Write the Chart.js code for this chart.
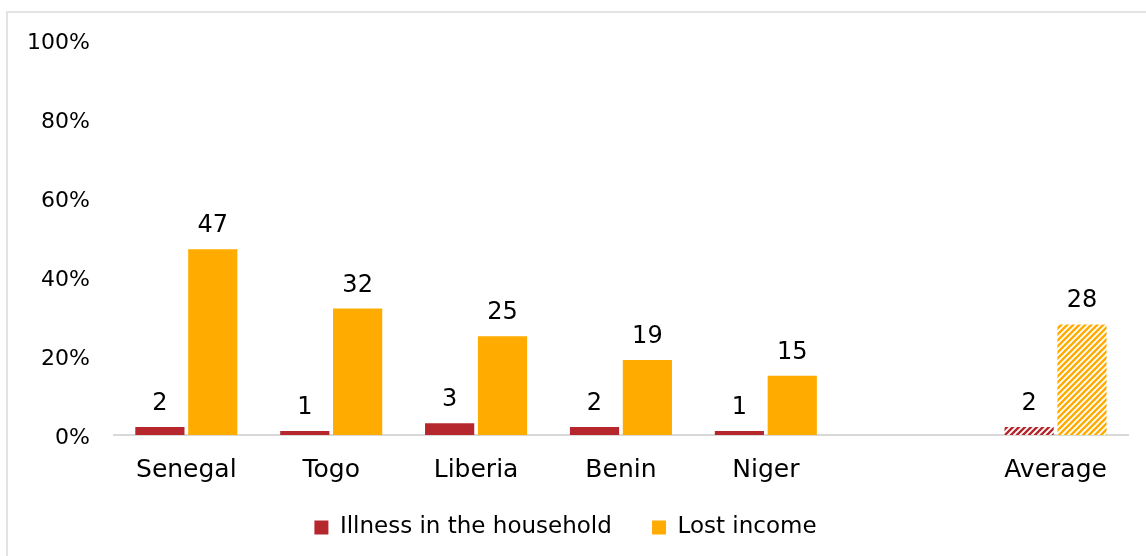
<!DOCTYPE html>
<html>
<head>
<meta charset="utf-8">
<script src="https://cdn.jsdelivr.net/npm/chart.js@4"></script>
<style>
  html, body { margin: 0; padding: 0; background: #fff; }
  #frame { position: absolute; left: 6px; top: 11px; width: 1160px; height: 560px; border: 2px solid #e3e3e3; box-sizing: border-box; }
  #wrap { position: absolute; left: 0; top: 0; width: 1146px; height: 556px; }
</style>
</head>
<body>
<div id="frame"></div>
<div id="wrap"><canvas id="chart"></canvas></div>
<script>
const categories = ['Senegal', 'Togo', 'Liberia', 'Benin', 'Niger', '', 'Average'];
const illness = [2, 1, 3, 2, 1, null, 2];
const lostIncome = [47, 32, 25, 19, 15, null, 28];
const yTicks = [0, 20, 40, 60, 80, 100];

const RED = '#b5272d';
const ORANGE = '#ffab00';
const FONT = "'DejaVu Sans', sans-serif";

// diagonal hatch for the average bars
function hatch(color) {
  const c = document.createElement('canvas');
  c.width = 6; c.height = 6;
  const g = c.getContext('2d');
  g.fillStyle = '#fff';
  g.fillRect(0, 0, 6, 6);
  g.strokeStyle = color;
  g.lineWidth = 2.4;
  g.beginPath();
  g.moveTo(-2, 8); g.lineTo(8, -2);
  g.moveTo(-2, 2); g.lineTo(2, -2);
  g.moveTo(4, 8); g.lineTo(8, 4);
  g.stroke();
  return g.createPattern(c, 'repeat');
}

function colorsFor(color) {
  return categories.map(c => c === 'Average' ? hatch(color) : color);
}

// value labels above each bar
const valueLabels = {
  id: 'valueLabels',
  afterDatasetsDraw(chart) {
    const ctx = chart.ctx;
    ctx.save();
    ctx.font = '24px ' + FONT;
    ctx.fillStyle = '#000';
    ctx.textAlign = 'center';
    ctx.textBaseline = 'alphabetic';
    chart.data.datasets.forEach((ds, i) => {
      chart.getDatasetMeta(i).data.forEach((bar, j) => {
        if (ds.data[j] == null) return;
        ctx.fillText(ds.data[j], bar.x, bar.y - 17);
      });
    });
    ctx.restore();
  }
};

new Chart(document.getElementById('chart'), {
  type: 'bar',
  data: {
    labels: categories,
    datasets: [
      { label: 'Illness in the household', data: illness, backgroundColor: colorsFor(RED) },
      { label: 'Lost income', data: lostIncome, backgroundColor: colorsFor(ORANGE) }
    ]
  },
  options: {
    responsive: true,
    maintainAspectRatio: false,
    animation: false,
    categoryPercentage: 0.73,
    barPercentage: 0.93,
    layout: { padding: { left: 3, right: 18, top: 40, bottom: 7 } },
    plugins: {
      legend: {
        position: 'bottom',
        labels: {
          font: { family: FONT, size: 23 },
          color: '#000',
          boxWidth: 14,
          boxHeight: 14,
          padding: 11,
          generateLabels(chart) {
            // trailing spaces widen the gap between the two items
            return chart.data.datasets.map((ds, i) => ({
              text: i === 0 ? ds.label + '    ' : ds.label,
              fillStyle: i === 0 ? RED : ORANGE,
              strokeStyle: 'transparent',
              lineWidth: 0,
              datasetIndex: i
            }));
          }
        }
      },
      tooltip: { enabled: false }
    },
    scales: {
      x: {
        grid: { display: false, drawTicks: false },
        border: { display: true, color: '#d9d9d9', width: 2 },
        ticks: { font: { family: FONT, size: 25 }, color: '#000', padding: 20 }
      },
      y: {
        min: 0,
        max: 100,
        afterBuildTicks(axis) { axis.ticks = yTicks.map(v => ({ value: v })); },
        grid: { display: false, drawTicks: false },
        border: { display: false },
        ticks: { font: { family: FONT, size: 22 }, color: '#000', padding: 24, labelOffset: 3, callback: v => v + '%' }
      }
    }
  },
  plugins: [valueLabels]
});
</script>
</body>
</html>
